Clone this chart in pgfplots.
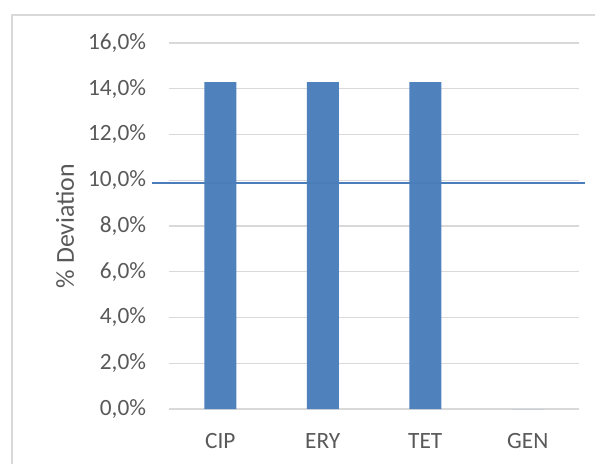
\documentclass[border=0pt]{standalone}
\usepackage{pgfplots}
\pgfplotsset{compat=1.18}
\usepackage{fontspec}
\setmainfont{Carlito}
\definecolor{barblue}{HTML}{4F81BD}
\definecolor{lineblue}{HTML}{4A7EBB}
\definecolor{gridgray}{HTML}{D9D9D9}
\definecolor{txt}{HTML}{595959}
\begin{document}
\begin{tikzpicture}
\useasboundingbox (0pt,0pt) rectangle (446.25pt,348pt);
\draw[gridgray, line width=1pt] (9pt,0pt) -- (9pt,336.75pt) -- (446.25pt,336.75pt);
\begin{axis}[
  at={(126.75pt,41.25pt)}, anchor=south west, scale only axis,
  width=307.5pt, height=274.5pt,
  xmin=-0.5, xmax=3.5, ymin=0, ymax=16,
  xtick={0,1,2,3}, xticklabels={CIP,ERY,TET,GEN},
  ytick={0,2,...,16},
  yticklabel={\pgfmathprintnumber[fixed,fixed zerofill,precision=1,use comma]{\tick}\%},
  /pgf/number format/assume math mode=true,
  axis line style={draw=none},
  ymajorgrids, grid style={gridgray, line width=0.9pt},
  major tick length=0pt,
  tick label style={font=\fontsize{17.5}{20}\selectfont, text=txt, inner sep=0pt},
  yticklabel style={anchor=east, xshift=-17pt},
  xticklabel style={anchor=north, yshift=-18pt},
  ylabel={\% Deviation},
  ylabel style={font=\fontsize{19.4}{22}\selectfont, text=txt, at={(axis description cs:-0.2537,0.5)}, anchor=center, rotate=0},
  clip=false,
]
\addplot[ybar, bar width=24pt, fill=barblue, draw=none] coordinates {(0,14.2857) (1,14.2857) (2,14.2857) (3,0)};
\addplot[lineblue, line width=1.5pt, no marks] coordinates {(-0.666,9.9) (3.56,9.9)};
\end{axis}
\end{tikzpicture}
\end{document}
